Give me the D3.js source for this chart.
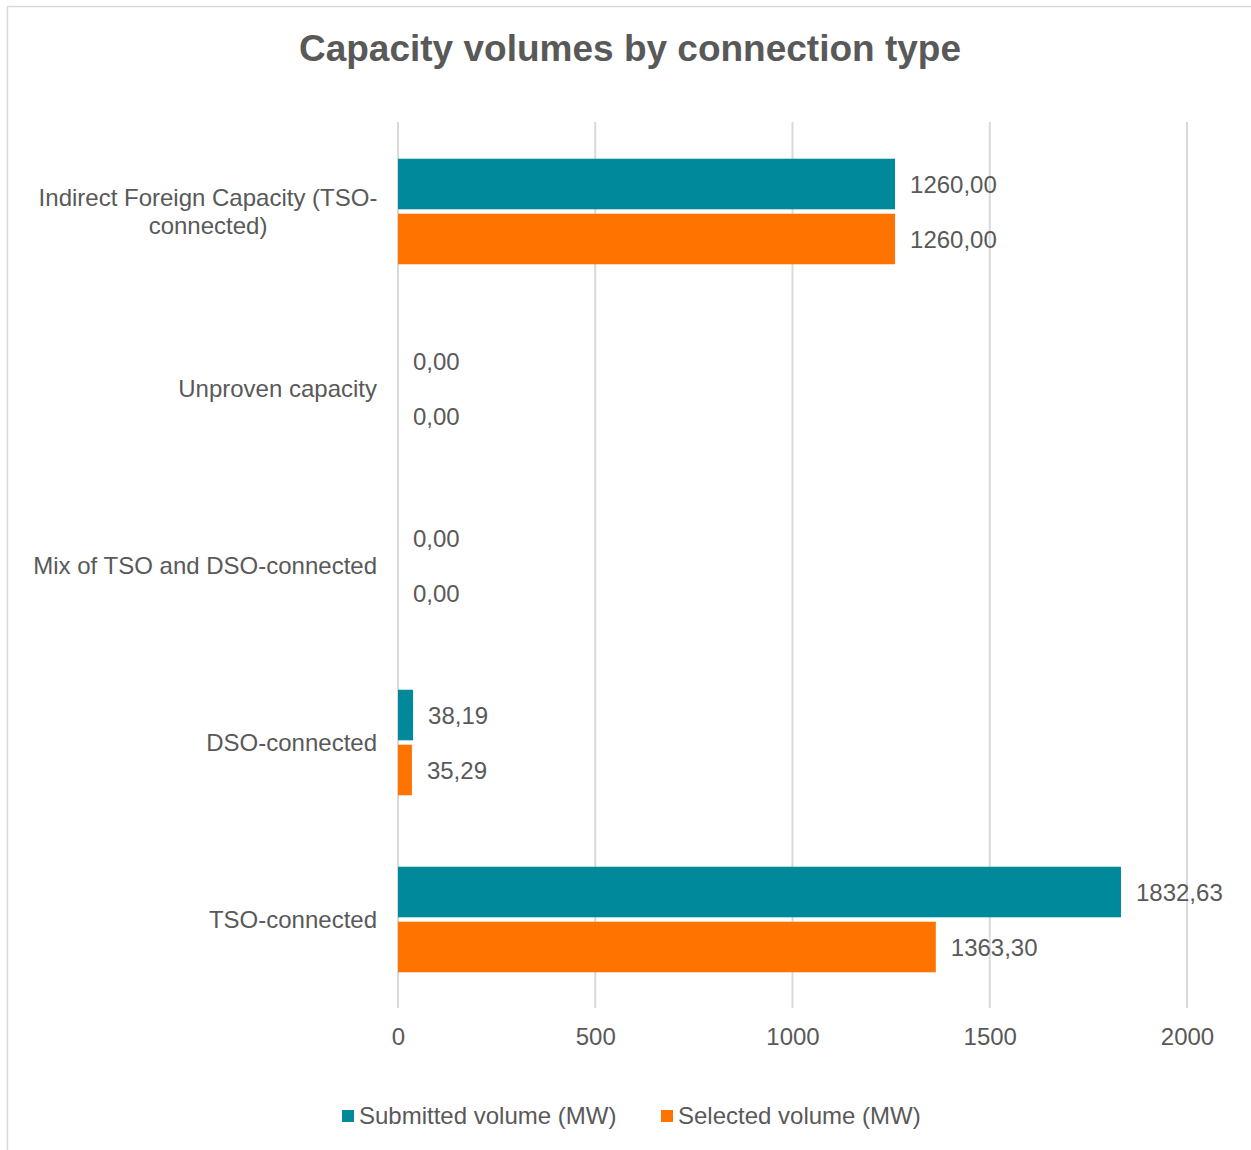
<!DOCTYPE html>
<html><head><meta charset="utf-8">
<script src="https://cdn.jsdelivr.net/npm/d3@7"></script>
<style>body{margin:0;background:#fff;} text{font-family:"Liberation Sans",Arial,sans-serif;}</style>
</head><body>
<svg id="c" width="1251" height="1150"></svg>
<script>
const categories = ["Indirect Foreign Capacity (TSO-connected)", "Unproven capacity", "Mix of TSO and DSO-connected", "DSO-connected", "TSO-connected"];
const submitted = [1260.00, 0.00, 0.00, 38.19, 1832.63];
const selected = [1260.00, 0.00, 0.00, 35.29, 1363.30];
const seriesNames = ["Submitted volume (MW)", "Selected volume (MW)"];
const colors = ["#00899A", "#FF7400"];
const xTicks = [0, 500, 1000, 1500, 2000];

const svg = d3.select("#c");
const textColor = "#595959";
const fs = 24;

svg.append("rect").attr("x", 7.5).attr("y", 6.5).attr("width", 1300).attr("height", 1200)
  .attr("fill", "#fff").attr("stroke", "#d9d9d9").attr("stroke-width", 1.5);

svg.append("text").attr("x", 630).attr("y", 61).attr("text-anchor", "middle")
  .attr("font-size", 37).attr("font-weight", "bold").attr("fill", textColor)
  .text("Capacity volumes by connection type");

const x = d3.scaleLinear().domain([0, 2000]).range([398, 1187]);
const y = d3.scaleBand().domain(categories).range([123, 1008]);
const inner = d3.scaleBand().domain([0, 1]).range([0, y.bandwidth()]).paddingInner(0.08).paddingOuter(0.65);

// gridlines
svg.append("g").selectAll("line").data(xTicks).join("line")
  .attr("x1", d => x(d)).attr("x2", d => x(d)).attr("y1", 122).attr("y2", 1008)
  .attr("stroke", "#d9d9d9").attr("stroke-width", 2);

// x axis tick labels
const xAxis = d3.axisBottom(x).tickValues(xTicks).tickSize(0).tickPadding(0).tickFormat(d3.format("d"));
const gx = svg.append("g").attr("transform", "translate(0,1037)").call(xAxis);
gx.select(".domain").remove();
gx.selectAll("text").attr("font-size", fs).attr("fill", textColor).attr("dy", "0.35em")
  .style("font-family", '"Liberation Sans",Arial,sans-serif');

// category labels
const catG = svg.append("g");
categories.forEach((c, i) => {
  const cy = y(c) + y.bandwidth() / 2;
  if (i === 0) {
    const t = catG.append("text").attr("text-anchor", "middle").attr("x", 208).attr("font-size", fs).attr("fill", textColor);
    t.append("tspan").attr("x", 208).attr("y", cy - 14).attr("dy", "0.35em").text("Indirect Foreign Capacity (TSO-");
    t.append("tspan").attr("x", 208).attr("y", cy + 14).attr("dy", "0.35em").text("connected)");
  } else {
    catG.append("text").attr("text-anchor", "end").attr("x", 377).attr("y", cy).attr("dy", "0.35em")
      .attr("font-size", fs).attr("fill", textColor).text(c);
  }
});

const fmt = v => v.toFixed(2).replace(".", ",");
const series = [submitted, selected];
series.forEach((vals, s) => {
  const g = svg.append("g");
  g.selectAll("rect").data(vals).join("rect")
    .attr("x", x(0)).attr("y", (d, i) => y(categories[i]) + inner(s))
    .attr("width", d => x(d) - x(0)).attr("height", inner.bandwidth())
    .attr("fill", colors[s]);
  g.selectAll("text").data(vals).join("text")
    .attr("x", d => x(d) + 15).attr("y", (d, i) => y(categories[i]) + inner(s) + inner.bandwidth() / 2 + 1)
    .attr("dy", "0.35em").attr("font-size", fs).attr("fill", textColor).text(d => fmt(d));
});

// legend
const legX = [342, 661];
seriesNames.forEach((n, i) => {
  svg.append("rect").attr("x", legX[i]).attr("y", 1110).attr("width", 12).attr("height", 12).attr("fill", colors[i]);
  svg.append("text").attr("x", legX[i] + 17).attr("y", 1116).attr("dy", "0.35em")
    .attr("font-size", fs).attr("fill", textColor).text(n);
});
</script>
</body></html>
